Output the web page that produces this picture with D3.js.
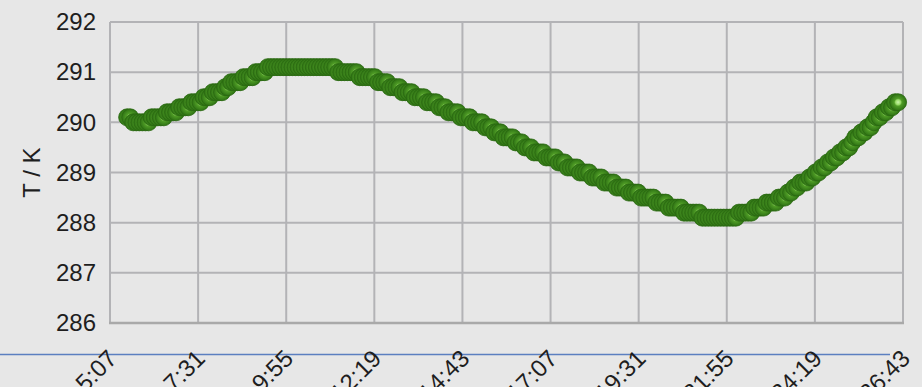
<!DOCTYPE html>
<html>
<head>
<meta charset="utf-8">
<script src="https://cdn.jsdelivr.net/npm/d3@7"></script>
<style>
  html, body { margin: 0; padding: 0; background: #e7e7e7; }
  svg { display: block; }
  text { font-family: "Liberation Sans", Arial, sans-serif; fill: #1e1e1e; }
</style>
</head>
<body>
<svg id="chart" width="922" height="387"></svg>
<script>
// Elapsed time of each reading, in seconds (one reading every 5 s)
const times = [
  335,340,345,350,355,360,365,370,375,380,385,390,
  395,400,405,410,415,420,425,430,435,440,445,450,
  455,460,465,470,475,480,485,490,495,500,505,510,
  515,520,525,530,535,540,545,550,555,560,565,570,
  575,580,585,590,595,600,605,610,615,620,625,630,
  635,640,645,650,655,660,665,670,675,680,685,690,
  695,700,705,710,715,720,725,730,735,740,745,750,
  755,760,765,770,775,780,785,790,795,800,805,810,
  815,820,825,830,835,840,845,850,855,860,865,870,
  875,880,885,890,895,900,905,910,915,920,925,930,
  935,940,945,950,955,960,965,970,975,980,985,990,
  995,1000,1005,1010,1015,1020,1025,1030,1035,1040,1045,1050,
  1055,1060,1065,1070,1075,1080,1085,1090,1095,1100,1105,1110,
  1115,1120,1125,1130,1135,1140,1145,1150,1155,1160,1165,1170,
  1175,1180,1185,1190,1195,1200,1205,1210,1215,1220,1225,1230,
  1235,1240,1245,1250,1255,1260,1265,1270,1275,1280,1285,1290,
  1295,1300,1305,1310,1315,1320,1325,1330,1335,1340,1345,1350,
  1355,1360,1365,1370,1375,1380,1385,1390,1395,1400,1405,1410,
  1415,1420,1425,1430,1435,1440,1445,1450,1455,1460,1465,1470,
  1475,1480,1485,1490,1495,1500,1505,1510,1515,1520,1525,1530,
  1535,1540,1545,1550,1555,1560,1565,1570,1575,1580,1585,1590,
  1595
];

// Temperature readings in kelvin (sensor resolution 0.1 K)
const temps = [
  290.1,290.1,
  290.0,290.0,290.0,290.0,290.0,290.0,
  290.1,290.1,290.1,290.1,290.1,
  290.2,290.2,290.2,290.2,
  290.3,290.3,290.3,290.3,
  290.4,290.4,290.4,290.4,
  290.5,290.5,290.5,
  290.6,290.6,290.6,290.6,
  290.7,290.7,
  290.8,290.8,290.8,290.8,
  290.9,290.9,290.9,290.9,
  291.0,291.0,291.0,291.0,
  291.1,291.1,291.1,291.1,291.1,291.1,291.1,291.1,291.1,291.1,291.1,291.1,
  291.1,291.1,291.1,291.1,291.1,291.1,291.1,291.1,291.1,291.1,291.1,
  291.0,291.0,291.0,291.0,291.0,291.0,291.0,
  290.9,290.9,290.9,290.9,290.9,290.9,
  290.8,290.8,290.8,290.8,
  290.7,290.7,290.7,290.7,
  290.6,290.6,290.6,290.6,
  290.5,290.5,290.5,290.5,
  290.4,290.4,290.4,290.4,
  290.3,290.3,290.3,
  290.2,290.2,290.2,290.2,
  290.1,290.1,290.1,290.1,
  290.0,290.0,290.0,290.0,
  289.9,289.9,289.9,
  289.8,289.8,289.8,
  289.7,289.7,289.7,289.7,
  289.6,289.6,289.6,
  289.5,289.5,289.5,
  289.4,289.4,289.4,289.4,
  289.3,289.3,289.3,289.3,
  289.2,289.2,289.2,
  289.1,289.1,289.1,289.1,
  289.0,289.0,289.0,289.0,
  288.9,288.9,288.9,288.9,
  288.8,288.8,288.8,288.8,
  288.7,288.7,288.7,288.7,
  288.6,288.6,288.6,288.6,
  288.5,288.5,288.5,288.5,288.5,
  288.4,288.4,288.4,288.4,
  288.3,288.3,288.3,288.3,288.3,
  288.2,288.2,288.2,288.2,288.2,288.2,
  288.1,288.1,288.1,288.1,288.1,288.1,288.1,288.1,288.1,288.1,288.1,288.1,
  288.2,288.2,288.2,288.2,288.2,
  288.3,288.3,288.3,288.3,
  288.4,288.4,288.4,288.4,
  288.5,288.5,288.5,
  288.6,288.6,
  288.7,288.7,
  288.8,288.8,288.8,
  288.9,288.9,
  289.0,289.0,
  289.1,289.1,
  289.2,289.2,
  289.3,289.3,
  289.4,289.4,
  289.5,289.5,
  289.6,
  289.7,289.7,
  289.8,289.8,
  289.9,289.9,
  290.0,
  290.1,290.1,
  290.2,290.2,
  290.3,290.3,
  290.4,290.4
];

// Time axis ticks (seconds) and their labels
const xTickValues = [307,451,595,739,883,1027,1171,1315,1459,1603];
const xTickLabels = ["5:07","7:31","9:55","12:19","14:43","17:07","19:31","21:55","24:19","26:43"];

// Temperature axis ticks
const yTickValues = [286,287,288,289,290,291,292];

const svg = d3.select("#chart");
const plotLeft = 110, plotRight = 903, plotTop = 22, plotBottom = 323;

const x = d3.scaleLinear().domain([307, 1603]).range([plotLeft, plotRight]);
const y = d3.scaleLinear().domain([286, 292]).range([plotBottom, plotTop]);

// Separator rule under the plot
svg.append("line")
  .attr("x1", 0).attr("x2", 890)
  .attr("y1", 354.5).attr("y2", 354.5)
  .attr("stroke", "#5b7fc0").attr("stroke-width", 1.4);

// Grid
const grid = svg.append("g");
grid.selectAll("line.h").data(yTickValues).join("line")
  .attr("class", "h")
  .attr("x1", plotLeft).attr("x2", plotRight)
  .attr("y1", d => y(d)).attr("y2", d => y(d))
  .attr("stroke", "#b3b3b6").attr("stroke-width", 2);
grid.selectAll("line.v").data(xTickValues).join("line")
  .attr("class", "v")
  .attr("x1", d => x(d)).attr("x2", d => x(d))
  .attr("y1", plotTop).attr("y2", plotBottom)
  .attr("stroke", "#b3b3b6").attr("stroke-width", 2);
grid.append("line")
  .attr("x1", plotLeft - 1).attr("x2", plotRight + 1)
  .attr("y1", plotBottom).attr("y2", plotBottom)
  .attr("stroke", "#a9a9a9").attr("stroke-width", 2.5);

// Y axis labels
const yAxis = d3.axisLeft(y).tickValues(yTickValues).tickFormat(d3.format("d")).tickSize(0).tickPadding(14);
const gy = svg.append("g").attr("transform", `translate(${plotLeft},0)`).call(yAxis);
gy.select(".domain").remove();
gy.selectAll("text").attr("font-size", 24).style("font-family", "Liberation Sans, Arial, sans-serif").attr("fill", "#1e1e1e");

// X axis labels, rotated
const xAxis = d3.axisBottom(x).tickValues(xTickValues)
  .tickFormat((d, i) => xTickLabels[i]).tickSize(0).tickPadding(0);
const gx = svg.append("g").attr("transform", `translate(0,${plotBottom})`).call(xAxis);
gx.select(".domain").remove();
gx.selectAll("text")
  .attr("font-size", 24)
  .style("font-family", "Liberation Sans, Arial, sans-serif")
  .attr("fill", "#1e1e1e")
  .attr("text-anchor", "end")
  .attr("dy", "0.35em")
  .attr("y", 0)
  .attr("transform", "translate(2,31) rotate(-45)");

// Y axis title
svg.append("text")
  .attr("transform", `translate(40,${(plotTop + plotBottom) / 2}) rotate(-90)`)
  .attr("text-anchor", "middle")
  .attr("font-size", 24)
  .text("T / K");

// Marker shading: light core, dark green rim
const defs = svg.append("defs");
const grad = defs.append("radialGradient").attr("id", "ball")
  .attr("cx", "50%").attr("cy", "50%").attr("r", "50%");
grad.append("stop").attr("offset", "0%").attr("stop-color", "#c8f4aa");
grad.append("stop").attr("offset", "30%").attr("stop-color", "#98da68");
grad.append("stop").attr("offset", "46%").attr("stop-color", "#4f9c26");
grad.append("stop").attr("offset", "100%").attr("stop-color", "#2e7214");

const n = Math.min(times.length, temps.length);
const pts = d3.range(n).map(i => ({ t: times[i], v: temps[i] }));
svg.append("g").selectAll("circle").data(pts).join("circle")
  .attr("cx", d => x(d.t))
  .attr("cy", d => y(d.v))
  .attr("r", 8.5)
  .attr("fill", "url(#ball)")
  .attr("stroke", "#2a6810")
  .attr("stroke-width", 0.8);
</script>
</body>
</html>
